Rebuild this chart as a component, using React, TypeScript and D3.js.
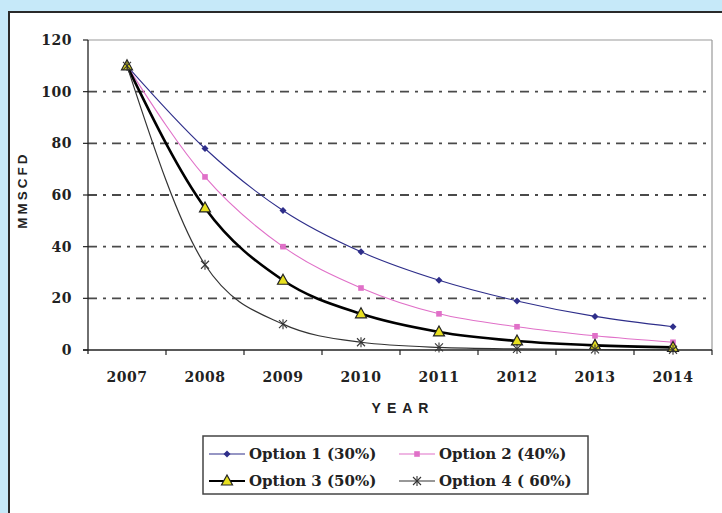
import React from "react";
import * as d3 from "d3";

const years = ["2007", "2008", "2009", "2010", "2011", "2012", "2013", "2014"];
const option1 = [110, 78, 54, 38, 27, 19, 13, 9];
const option2 = [110, 67, 40, 24, 14, 9, 5.5, 3];
const option3 = [110, 55, 27, 14, 7, 3.5, 1.8, 1];
const option4 = [110, 33, 10, 3, 1, 0.4, 0.2, 0.1];
const yTicks = [0, 20, 40, 60, 80, 100, 120];
const seriesNames = ["Option 1 (30%)", "Option 2 (40%)", "Option 3 (50%)", "Option 4 ( 60%)"];

const W = 722;
const H = 513;
const plot = { left: 88, right: 712, top: 40, bottom: 350 };

type Marker = "diamond" | "square" | "triangle" | "star";

const series: { name: string; values: number[]; color: string; width: number; marker: Marker }[] = [
  { name: seriesNames[0], values: option1, color: "#2e2e8a", width: 1.1, marker: "diamond" },
  { name: seriesNames[1], values: option2, color: "#e070c8", width: 1.1, marker: "square" },
  { name: seriesNames[2], values: option3, color: "#000000", width: 2.6, marker: "triangle" },
  { name: seriesNames[3], values: option4, color: "#333333", width: 1.2, marker: "star" },
];

function MarkerShape({ type, x, y, color }: { type: Marker; x: number; y: number; color: string }) {
  if (type === "diamond") {
    return <path d={`M${x},${y - 3.5}L${x + 3.5},${y}L${x},${y + 3.5}L${x - 3.5},${y}Z`} fill={color} />;
  }
  if (type === "square") {
    return <rect x={x - 2.8} y={y - 2.8} width={5.6} height={5.6} fill={color} />;
  }
  if (type === "triangle") {
    return (
      <path
        d={`M${x},${y - 6}L${x + 5.5},${y + 4}L${x - 5.5},${y + 4}Z`}
        fill="#e8e020"
        stroke="#222"
        strokeWidth={1.2}
      />
    );
  }
  return (
    <g stroke={color} strokeWidth={1.1}>
      <line x1={x - 4} y1={y - 4} x2={x + 4} y2={y + 4} />
      <line x1={x - 4} y1={y + 4} x2={x + 4} y2={y - 4} />
      <line x1={x} y1={y - 5} x2={x} y2={y + 5} />
    </g>
  );
}

export default function App() {
  const x = d3.scaleBand<string>().domain(years).range([plot.left, plot.right]);
  const y = d3.scaleLinear().domain([0, 120]).range([plot.bottom, plot.top]);
  const cx = (yr: string) => (x(yr) as number) + x.bandwidth() / 2;

  const line = d3
    .line<number>()
    .x((_, i) => cx(years[i]))
    .y((v) => y(v))
    .curve(d3.curveMonotoneX);

  const serif = "'DejaVu Serif', serif";
  const legendX = 203;
  const legendY = 436;

  return (
    <svg
      width={W}
      height={H}
      style={{ position: "absolute", left: 0, top: 0 }}
      xmlns="http://www.w3.org/2000/svg"
    >
      <rect x={0} y={0} width={W} height={H} fill="#c6e9f9" />
      <rect x={9} y={12} width={W} height={H} fill="#ffffff" stroke="#2a2a2a" strokeWidth={2} />

      {/* plot border top/right */}
      <line x1={plot.left} y1={plot.top} x2={plot.right} y2={plot.top} stroke="#999" strokeWidth={1.2} />
      <line x1={plot.right} y1={plot.top} x2={plot.right} y2={plot.bottom} stroke="#999" strokeWidth={1.2} />

      {/* gridlines */}
      {yTicks
        .filter((t) => t > 0 && t < 120)
        .map((t) => (
          <line
            key={t}
            x1={plot.left}
            x2={plot.right}
            y1={y(t)}
            y2={y(t)}
            stroke="#4a4a4a"
            strokeWidth={1.8}
            strokeDasharray="9,6,3,6"
          />
        ))}

      {/* axes */}
      <line x1={plot.left} y1={plot.top} x2={plot.left} y2={plot.bottom + 4} stroke="#222" strokeWidth={1.3} />
      <line x1={plot.left - 5} y1={plot.bottom} x2={plot.right} y2={plot.bottom} stroke="#222" strokeWidth={1.3} />
      {yTicks.map((t) => (
        <g key={t}>
          <line x1={plot.left - 5} x2={plot.left} y1={y(t)} y2={y(t)} stroke="#222" strokeWidth={1.2} />
          <text
            x={72}
            y={y(t)}
            dy="0.35em"
            textAnchor="end"
            fontFamily={serif}
            fontWeight="bold"
            fontSize={14}
            letterSpacing={0.5}
            fill="#222"
          >
            {t}
          </text>
        </g>
      ))}
      {years.map((yr, i) => (
        <g key={yr}>
          {i > 0 && (
            <line
              x1={x(yr) as number}
              x2={x(yr) as number}
              y1={plot.bottom}
              y2={plot.bottom + 5}
              stroke="#222"
              strokeWidth={1.2}
            />
          )}
          <text
            x={cx(yr)}
            y={plot.bottom + 32}
            textAnchor="middle"
            fontFamily={serif}
            fontWeight="bold"
            fontSize={14}
            letterSpacing={0.5}
            fill="#222"
          >
            {yr}
          </text>
        </g>
      ))}
      <line x1={plot.right} x2={plot.right} y1={plot.bottom} y2={plot.bottom + 5} stroke="#222" strokeWidth={1.2} />

      {/* axis titles */}
      <text
        x={(plot.left + plot.right) / 2 + 3}
        y={413}
        textAnchor="middle"
        fontFamily="'Liberation Sans', Arial, sans-serif"
        fontWeight="bold"
        fontSize={14}
        letterSpacing={6}
        fill="#222"
      >
        YEAR
      </text>
      <text
        transform={`translate(27,190) rotate(-90)`}
        textAnchor="middle"
        fontFamily="'Liberation Sans', Arial, sans-serif"
        fontWeight="bold"
        fontSize={13.5}
        letterSpacing={3}
        fill="#222"
      >
        MMSCFD
      </text>

      {/* series */}
      {series.map((s) => (
        <g key={s.name}>
          <path d={line(s.values) ?? ""} fill="none" stroke={s.color} strokeWidth={s.width} />
          {s.values.map((v, i) => (
            <MarkerShape key={i} type={s.marker} x={cx(years[i])} y={y(v)} color={s.color} />
          ))}
        </g>
      ))}

      {/* legend */}
      <rect x={legendX} y={legendY} width={385} height={58} fill="#fff" stroke="#444" strokeWidth={1.5} />
      {series.map((s, i) => {
        const col = i % 2;
        const row = Math.floor(i / 2);
        const lx = legendX + 6 + col * 190;
        const ly = legendY + 18 + row * 27;
        return (
          <g key={s.name}>
            <line x1={lx} x2={lx + 36} y1={ly} y2={ly} stroke={s.color} strokeWidth={s.width === 2.6 ? 2 : s.width} />
            <MarkerShape type={s.marker} x={lx + 18} y={ly} color={s.color} />
            <text
              x={lx + 40}
              y={ly}
              dy="0.35em"
              fontFamily={serif}
              fontWeight="bold"
              fontSize={15}
              fill="#222"
            >
              {s.name}
            </text>
          </g>
        );
      })}
    </svg>
  );
}
